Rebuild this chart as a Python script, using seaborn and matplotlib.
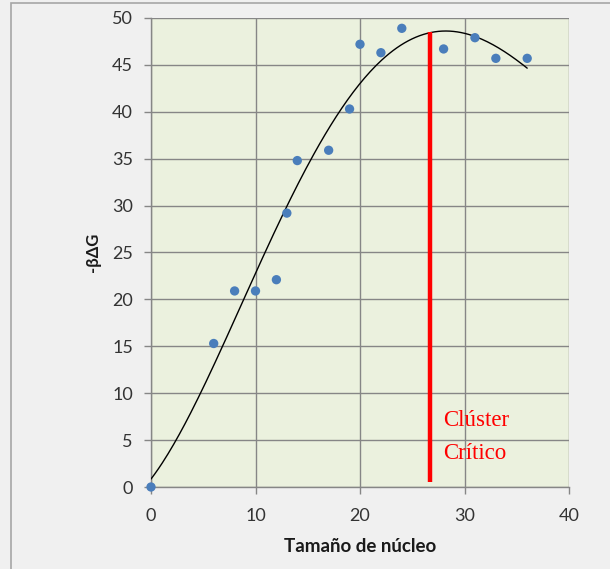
import numpy as np
import pandas as pd
import matplotlib
matplotlib.use("Agg")
import matplotlib.pyplot as plt
from matplotlib.patches import Rectangle
import seaborn as sns

# Nucleus size vs. -beta*DeltaG
nucleus_size = [0, 6, 8, 10, 12, 13, 14, 17, 19, 20, 22, 24, 28, 31, 33, 36]
neg_beta_dg = [0.0, 15.3, 20.9, 20.9, 22.1, 29.2, 34.8, 35.9, 40.3, 47.2, 46.3, 48.9, 46.7, 47.9, 45.7, 45.7]
critical_size = 26.7
critical_line_top = 48.5
x_ticks = [0, 10, 20, 30, 40]
y_ticks = [0, 5, 10, 15, 20, 25, 30, 35, 40, 45, 50]

df = pd.DataFrame({"size": nucleus_size, "dg": neg_beta_dg})

# polynomial trend line
coef = np.polyfit(df["size"], df["dg"], 4)
xs = np.linspace(0, max(nucleus_size), 200)
trend = pd.DataFrame({"size": xs, "dg": np.polyval(coef, xs)})

sns.set_theme(style="ticks")
plt.rcParams["font.family"] = ["Lato", "DejaVu Sans"]

fig = plt.figure(figsize=(6.10, 5.69), dpi=100, facecolor="#f0f0f0")
# chart frame
fig.patches.append(Rectangle((11 / 610, -0.01), 1.0, 1 - 3 / 569 + 0.01,
                             transform=fig.transFigure, facecolor="none",
                             edgecolor="#a6a6a6", linewidth=1.2))
ax = fig.add_axes([151 / 610, 1 - 487 / 569, 418 / 610, 469 / 569])
ax.set_facecolor("#ebf1de")

ax.set_xlim(0, 40)
ax.set_ylim(0, 50)
ax.set_xticks(x_ticks)
ax.set_yticks(y_ticks)
ax.grid(True, color="#868686", linewidth=1.0)
ax.set_axisbelow(True)

sns.lineplot(data=trend, x="size", y="dg", ax=ax, color="black", linewidth=1.0,
             sort=False, zorder=3)
sns.scatterplot(data=df, x="size", y="dg", ax=ax, color="#4a7ebb", s=45,
                edgecolor="none", zorder=4, clip_on=False)
ax.vlines(critical_size, 0.5, critical_line_top, color="#ff0000", linewidth=3.2, zorder=5)

serif = ["Liberation Serif", "DejaVu Serif"]
ax.text(28.0, 7.1, "Clúster", color="#ff0000", fontsize=16.5, family=serif,
        ha="left", va="center")
ax.text(28.0, 3.6, "Crítico", color="#ff0000", fontsize=16.5, family=serif,
        ha="left", va="center")

for side in ["top", "right"]:
    ax.spines[side].set_visible(False)
for side in ["left", "bottom"]:
    ax.spines[side].set_color("#868686")
    ax.spines[side].set_linewidth(1.0)
ax.tick_params(axis="both", colors="#868686", length=5, width=1.0,
               labelsize=13, labelcolor="#333333")
ax.tick_params(axis="x", pad=10)
ax.tick_params(axis="y", pad=8)

ax.set_xlabel("Tamaño de núcleo", fontsize=13.5, fontweight="bold", color="#1a1a1a", labelpad=10)
ax.set_ylabel("-βΔG", fontsize=12, fontweight="bold", color="#1a1a1a", labelpad=8)

fig.savefig("out.png", dpi=100, facecolor=fig.get_facecolor())
